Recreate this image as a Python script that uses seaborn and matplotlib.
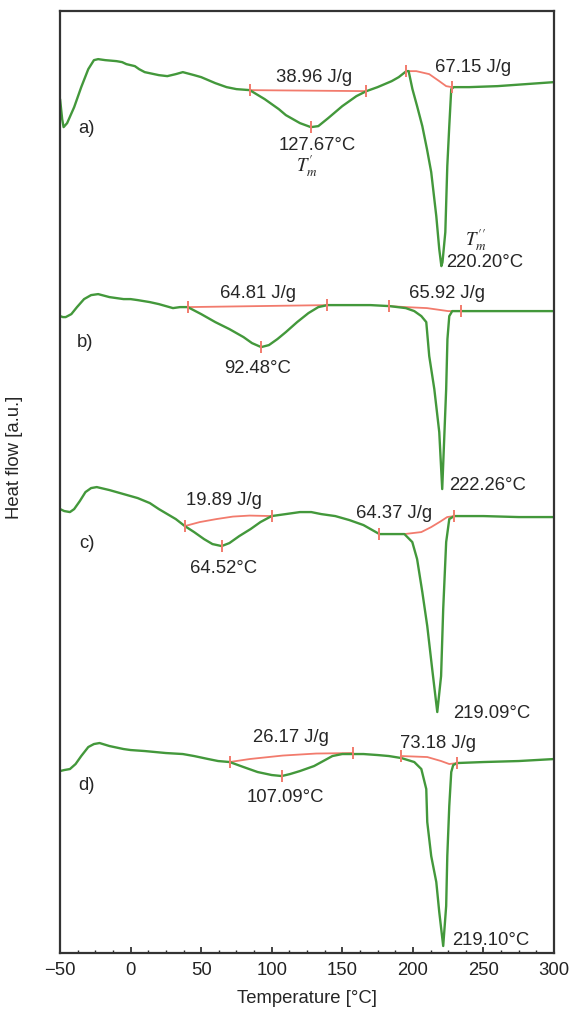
import pandas as pd
import matplotlib
matplotlib.use("Agg")
import matplotlib.pyplot as plt
from matplotlib.ticker import MultipleLocator
import seaborn as sns

# === Data: DSC curves (heat flow in a.u., exo up, curves stacked) ===
temp_a = [-50, -48.5, -47.5, -45, -40, -35, -30, -26, -23, -18, -10, -6, -3, 0, 3, 6, 10, 20, 26, 32,
          37, 45, 50, 60, 68, 75, 84.4, 95, 105, 110, 115, 120, 127.7, 133, 140, 150, 160, 167.1,
          175, 185, 190, 195.4, 197, 199.7, 203, 206.7, 210, 213, 216.6, 218.7, 220.2, 221, 223,
          224.4, 225.8, 227.2, 229, 240, 260, 280, 300]
hf_a = [-100, -120, -128, -124, -108, -88, -70, -61, -60, -61, -62, -63, -65, -66, -67, -70, -73, -76,
        -77, -75, -73, -76, -78, -84, -88, -90, -91, -100, -110, -116, -120, -124, -128, -127, -119,
        -107, -97, -92, -88, -82, -78, -72, -72, -90, -107, -127, -150, -173, -217, -250, -267, -263,
        -233, -167, -127, -90, -88, -88, -87, -85, -83]

temp_b = [-50, -48, -46, -42, -38, -33, -28, -23, -15, -5, 0, 5, 13.6, 20, 25, 30, 35, 40.5, 50, 60,
          70, 80, 86, 92.5, 98, 104, 110, 118, 126, 133, 139.5, 150, 160, 170, 183.4, 195, 201, 206,
          209.5, 211.6, 215.2, 218.7, 220.8, 222.2, 223.6, 224.5, 225.8, 227.9, 234.2, 260, 300]
hf_b = [-317, -318, -318, -315, -308, -300, -296, -295, -298, -300, -300, -301, -303, -305, -307,
        -309, -308, -308, -315, -323, -330, -338, -344, -348, -346, -340, -333, -323, -314, -308,
        -306, -306, -306, -306, -307, -309, -312, -317, -323, -357, -390, -433, -490, -440, -390,
        -340, -317, -312, -312, -312, -312]

temp_c = [-50, -47, -43, -40, -36, -32, -28, -24, -15, -5, 5, 13.6, 20, 26, 32, 38.4, 45, 52, 58,
          64.5, 70, 77, 85, 92, 99.9, 110, 120, 128, 135, 145, 155, 165, 176.3, 187, 194, 199.6, 203,
          206.7, 210.2, 213.7, 217.3, 220, 221.5, 223.6, 225.8, 229.3, 250, 275, 300]
hf_c = [-510, -512, -513, -510, -502, -493, -489, -488, -491, -495, -499, -504, -510, -515, -520,
        -527, -533, -540, -545, -547, -544, -537, -530, -523, -517, -515, -513, -513, -515, -517,
        -521, -526, -535, -535, -535, -543, -560, -593, -627, -670, -713, -677, -610, -543, -520,
        -517, -517, -518, -518]

temp_d = [-50, -47, -43, -39, -35, -30, -26, -22, -15, -5, 0, 10, 25, 37, 45, 55, 62, 70.2, 80, 90,
          100, 107.1, 113, 120, 130, 143, 150, 157, 165, 175, 183, 191.8, 201, 206, 209.5, 210.2,
          213, 216.6, 218.7, 221.5, 223.6, 224.4, 225.8, 227.2, 228.6, 231.4, 250, 275, 300]
hf_d = [-772, -771, -770, -765, -757, -748, -745, -744, -747, -750, -751, -752, -754, -755, -757,
        -760, -762, -763, -768, -773, -776, -777, -775, -772, -767, -757, -755, -755, -755, -756,
        -757, -759, -763, -770, -790, -823, -857, -883, -913, -947, -907, -857, -807, -773, -766,
        -764, -763, -762, -760]

# === Integration baselines ===
base_temp = [
    [84.4, 167.1],
    [195.4, 202.4, 211.6, 218.7, 223.6, 227.6],
    [40.5, 139.5],
    [183.4, 195, 210, 220, 225, 234.2],
    [38.4, 49, 60.8, 72.5, 84.3, 99.9],
    [176.3, 187, 194, 206, 213, 220, 224.3, 229.3],
    [70.2, 84.3, 107.9, 131.5, 157.4],
    [191.8, 210.2, 220, 225.8, 231.4],
]
base_hf = [
    [-91, -92],
    [-72, -72, -75, -82, -87, -88],
    [-308, -306],
    [-307, -308, -309, -311, -312, -312],
    [-527, -523, -520, -517.5, -516.5, -517],
    [-535, -535, -535, -533, -528, -522, -518, -517],
    [-763, -760, -756.5, -754.5, -754],
    [-757, -758, -762, -765, -764],
]

# peak (minimum) markers
peak_temp = [127.7, 92.5, 64.5, 107.1]
peak_hf = [-128, -348, -547, -777]

samples = ["a)", "b)", "c)", "d)"]
enthalpy_1 = ["38.96 J/g", "64.81 J/g", "19.89 J/g", "26.17 J/g"]
enthalpy_2 = ["67.15 J/g", "65.92 J/g", "64.37 J/g", "73.18 J/g"]
tm_1 = ["127.67°C", "92.48°C", "64.52°C", "107.09°C"]
tm_2 = ["220.20°C", "222.26°C", "219.09°C", "219.10°C"]

green = "#43983b"
red = "#f27b6d"

# === Build tables ===
curves = pd.concat([
    pd.DataFrame({"T": t, "hf": h, "sample": s})
    for t, h, s in zip([temp_a, temp_b, temp_c, temp_d], [hf_a, hf_b, hf_c, hf_d], samples)
])
bases = pd.concat([
    pd.DataFrame({"T": t, "hf": h, "seg": i}) for i, (t, h) in enumerate(zip(base_temp, base_hf))
])

# === Plot ===
sns.set_style("ticks")
plt.rcParams["font.family"] = ["Liberation Sans", "DejaVu Sans"]
plt.rcParams["mathtext.fontset"] = "stix"

fig, ax = plt.subplots(figsize=(5.72, 10.12), dpi=100)
fig.subplots_adjust(left=0.105, right=0.9685, bottom=0.0573, top=0.988)

sns.lineplot(data=bases, x="T", y="hf", units="seg", estimator=None, sort=False,
             color=red, linewidth=1.3, ax=ax)
sns.lineplot(data=curves, x="T", y="hf", units="sample", estimator=None, sort=False,
             color=green, linewidth=1.7, ax=ax)

# end ticks of baselines and peak ticks
for t, h in zip(base_temp, base_hf):
    ax.plot([t[0], t[-1]], [h[0], h[-1]], ls="none", marker="|", ms=9, mew=1.4, color=red)
ax.plot(peak_temp, peak_hf, ls="none", marker="|", ms=9, mew=1.4, color=red)

fs = 13.3
# === Annotations ===
lab_pos = [(-31, -128), (-32, -342), (-31, -543), (-31, -785)]
e1_pos = [(130.3, -77), (90.2, -293), (66, -500), (113.8, -737)]
e2_pos = [(242.4, -67), (224, -293), (186.9, -513), (217.5, -743)]
t1_pos = [(132, -145), (90.2, -368), (66, -568), (109.7, -797)]
t2_pos = [(251.2, -262), (252.8, -485), (255.8, -713), (255.2, -940)]
for i in range(4):
    ax.text(*lab_pos[i], samples[i], ha="center", va="center", fontsize=fs)
    ax.text(*e1_pos[i], enthalpy_1[i], ha="center", va="center", fontsize=fs)
    ax.text(*e2_pos[i], enthalpy_2[i], ha="center", va="center", fontsize=fs)
    ax.text(*t1_pos[i], tm_1[i], ha="center", va="center", fontsize=fs)
    ax.text(*t2_pos[i], tm_2[i], ha="center", va="center", fontsize=fs)

ax.text(124.6, -166, r"$T_m^{\prime}$", ha="center", va="center", fontsize=13.5)
ax.text(244.6, -240, r"$T_m^{\prime\prime}$", ha="center", va="center", fontsize=13.5)

# === Axes ===
ax.set_xlim(-50, 300)
ax.set_ylim(-954, -12)
ax.set_xticks(range(-50, 301, 50))
ax.xaxis.set_minor_locator(MultipleLocator(12.5))
ax.set_yticks([])
ax.tick_params(axis="x", which="major", direction="in", length=4, width=1.2,
               labelsize=fs, pad=6, colors="#222222")
ax.tick_params(axis="x", which="minor", direction="in", length=2.5, width=1.0)
for sp in ax.spines.values():
    sp.set_visible(True)
    sp.set_linewidth(1.6)
    sp.set_color("#333333")

ax.set_xlabel("Temperature [°C]", fontsize=fs, labelpad=8)
ax.set_ylabel("Heat flow [a.u.]", fontsize=fs)
ax.yaxis.set_label_coords(-0.075, 0.527)

plt.savefig("out.png", dpi=100)
plt.close()
